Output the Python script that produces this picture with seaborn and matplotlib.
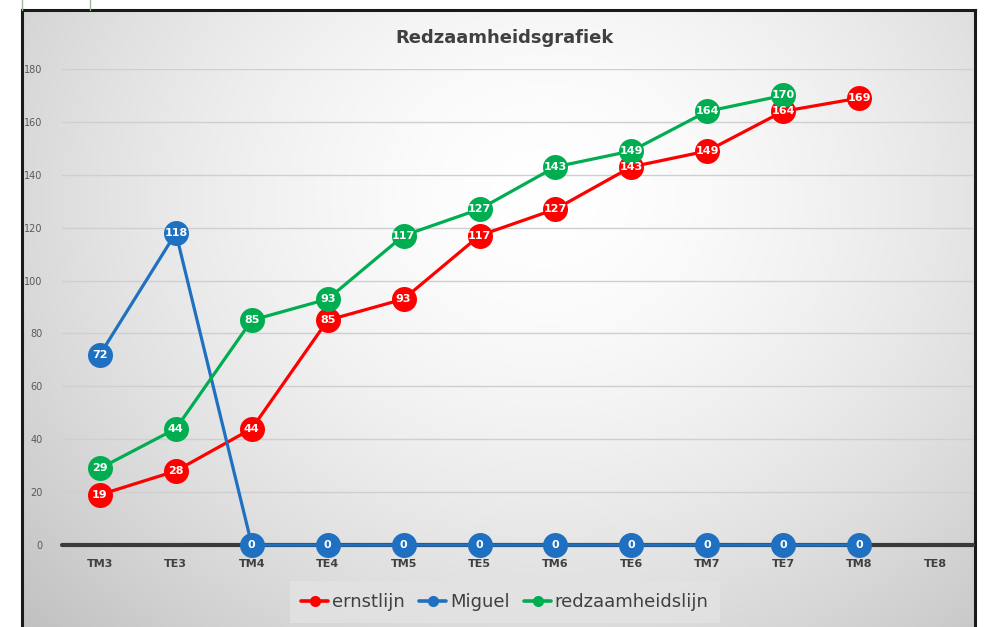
import numpy as np
import pandas as pd
import matplotlib
matplotlib.use("Agg")
import matplotlib.pyplot as plt
from matplotlib.lines import Line2D
import seaborn as sns

categories = ["TM3", "TE3", "TM4", "TE4", "TM5", "TE5", "TM6", "TE6", "TM7", "TE7", "TM8", "TE8"]
ernstlijn = [19, 28, 44, 85, 93, 117, 127, 143, 149, 164, 169, None]
miguel = [72, 118, 0, 0, 0, 0, 0, 0, 0, 0, 0, None]
redzaamheidslijn = [29, 44, 85, 93, 117, 127, 143, 149, 164, 170, None, None]
series_names = ["ernstlijn", "Miguel", "redzaamheidslijn"]
colors = {"ernstlijn": "#FF0000", "Miguel": "#1F70C1", "redzaamheidslijn": "#00AD50"}
y_ticks = [0, 20, 40, 60, 80, 100, 120, 140, 160, 180]

rows = []
for name, vals in zip(series_names, [ernstlijn, miguel, redzaamheidslijn]):
    for i, v in enumerate(vals):
        if v is not None:
            rows.append({"pos": i, "cat": categories[i], "value": v, "series": name})
df = pd.DataFrame(rows)

sns.set_theme(style="white")
plt.rcParams['font.family'] = ['DejaVu Sans']

W, H = 994, 627
fig = plt.figure(figsize=(W / 100, H / 100), dpi=100)
fig.patch.set_facecolor("white")

# chart area background with radial gradient
x0, x1, ytop = 22, 975, 10
bg = fig.add_axes([x0 / W, 0, (x1 - x0) / W, (H - ytop) / H])
gx = np.linspace(0, 1, 400)
gy = np.linspace(0, 1, 300)
GX, GY = np.meshgrid(gx, gy)
r = np.sqrt(((GX - 0.55) / 0.75) ** 2 + ((GY - 0.3) / 1.0) ** 2)
val = 1.0 - 0.24 * np.clip(r, 0, 1.3) ** 1.6
bg.imshow(np.dstack([val, val, val]), aspect="auto", extent=[0, 1, 1, 0])
bg.set_xlim(0, 1)
bg.set_ylim(1, 0)
bg.set_xticks([])
bg.set_yticks([])
for s in ["left", "right", "top"]:
    bg.spines[s].set_color("#1a1a1a")
    bg.spines[s].set_linewidth(2.2)
bg.spines["bottom"].set_visible(False)

# small sheet marks above
fig.add_artist(Line2D([22 / W, 22 / W], [1, 1 - 10 / H], color="#9bb89b", lw=1))
fig.add_artist(Line2D([90 / W, 90 / W], [1, 1 - 10 / H], color="#9bb89b", lw=1))

# main plot axes
left_px, right_px = 62, 973
y0_px, y180_px = 545, 69
ax = fig.add_axes([left_px / W, (H - y0_px) / H, (right_px - left_px) / W, (y0_px - y180_px) / H])
ax.patch.set_alpha(0)

ax.axhline(0, color="#3a3a3a", linewidth=3.0, zorder=1.5)
sns.lineplot(data=df, x="pos", y="value", hue="series", palette=colors,
             hue_order=series_names, marker="o", markersize=18, linewidth=2.3,
             markeredgewidth=0, sort=False, ax=ax, legend=False, zorder=3)
for line in ax.lines:
    line.set_clip_on(False)

for _, row in df.iterrows():
    ax.text(row["pos"], row["value"], str(int(row["value"])), ha="center", va="center",
            color="white", fontsize=8, fontweight="bold", zorder=5, clip_on=False)

ax.set_xlim(-0.5, len(categories) - 0.5)
ax.set_ylim(0, 180)
ax.set_yticks(y_ticks)
ax.set_yticklabels([str(t) for t in y_ticks], fontsize=7, color="#595959")
ax.set_xticks(range(len(categories)))
ax.set_xticklabels(categories, fontsize=8, fontweight="bold", color="#404040")
ax.tick_params(axis="x", length=0, pad=10)
ax.tick_params(axis="y", length=0, pad=14)
ax.set_xlabel("")
ax.set_ylabel("")
for s in ax.spines.values():
    s.set_visible(False)
ax.yaxis.grid(True, color="#cfcfcf", linewidth=1.0)
ax.set_axisbelow(True)

fig.text(505 / W, 1 - 38 / H, "Redzaamheidsgrafiek", ha="center", va="center",
         fontsize=13, fontweight="bold", color="#404040")

handles = [Line2D([0], [0], color=colors[n], lw=2.6, marker="o", markersize=8,
                  markeredgewidth=0) for n in series_names]
leg = fig.legend(handles, series_names, loc="center", bbox_to_anchor=(505 / W, 1 - 602 / H),
                 ncol=3, frameon=True, fontsize=13, handlelength=1.5, handletextpad=0.2,
                 columnspacing=0.8, borderpad=0.35)
leg.get_frame().set_facecolor("#e3e3e3")
leg.get_frame().set_edgecolor("none")
leg.get_frame().set_boxstyle("square")
for t in leg.get_texts():
    t.set_color("#404040")

fig.savefig("out.png", dpi=100)
